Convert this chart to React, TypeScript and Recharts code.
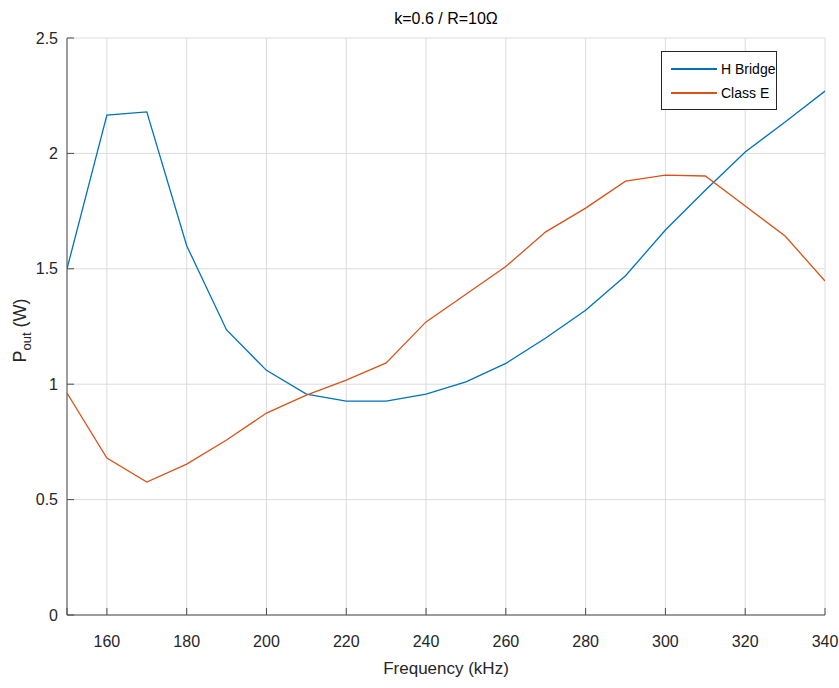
import { LineChart, Line, XAxis, YAxis, CartesianGrid } from "recharts";

const freqs = [150, 160, 170, 180, 190, 200, 210, 220, 230, 240, 250, 260, 270, 280, 290, 300, 310, 320, 330, 340];
const hBridge = [1.5, 2.166, 2.18, 1.6, 1.235, 1.06, 0.957, 0.927, 0.927, 0.957, 1.01, 1.09, 1.2, 1.32, 1.47, 1.668, 1.84, 2.006, 2.136, 2.27];
const classE = [0.962, 0.68, 0.576, 0.654, 0.758, 0.875, 0.953, 1.018, 1.092, 1.27, 1.39, 1.51, 1.66, 1.763, 1.88, 1.906, 1.902, 1.772, 1.642, 1.447];
const xTicks = [150, 160, 180, 200, 220, 240, 260, 280, 300, 320, 340];
const yTicks = [0, 0.5, 1, 1.5, 2, 2.5];

const data = freqs.map((f, i) => ({ f, h: hBridge[i], e: classE[i] }));

const FONT = "'Liberation Sans', Arial, sans-serif";
const BLUE = "#0072BD";
const ORANGE = "#D95319";
const AXIS = "#4d4d4d";

const yLabel = (props: any) => {
  const vb = props.viewBox || {};
  const cx = 26;
  const cy = vb.y + vb.height / 2 + 4;
  return (
    <text
      x={cx}
      y={cy}
      transform={`rotate(-90 ${cx} ${cy})`}
      textAnchor="middle"
      fontFamily={FONT}
      fontSize={18}
      fill="#262626"
    >
      P
      <tspan fontSize={13} dy={5}>out</tspan>
      <tspan dy={-5}>{"  (W)"}</tspan>
    </text>
  );
};

const legendItems = [
  { name: "H Bridge", c: BLUE },
  { name: "Class E", c: ORANGE },
];

export default function App() {
  return (
    <div style={{ position: "absolute", left: 0, top: 0, width: 839, height: 688, background: "#fff" }}>
      <LineChart
        width={839}
        height={688}
        data={data}
        margin={{ top: 38, right: 14, bottom: 0, left: 0 }}
      >
        <text
          x={446}
          y={24}
          textAnchor="middle"
          fontFamily={FONT}
          fontSize={16}
          fill="#000"
        >
          k=0.6 / R=10Ω
        </text>
        <CartesianGrid stroke="#dcdcdc" strokeWidth={1} />
        <XAxis
          dataKey="f"
          type="number"
          domain={[150, 340]}
          ticks={xTicks}
          height={73}
          interval={0}
          allowDataOverflow
          stroke={AXIS}
          tickSize={-7}
          tickMargin={28}
          tickFormatter={(v: number) => (v === 150 ? "" : String(v))}
          tick={{ fill: "#262626", fontFamily: FONT, fontSize: 16 }}
          label={{
            value: "Frequency (kHz)",
            position: "insideBottom",
            offset: 14,
            fill: "#262626",
            fontFamily: FONT,
            fontSize: 17,
          }}
        />
        <XAxis
          xAxisId="top"
          orientation="top"
          dataKey="f"
          type="number"
          domain={[150, 340]}
          ticks={xTicks}
          height={0}
          stroke={AXIS}
          tickSize={-7}
          tickFormatter={() => ""}
        />
        <YAxis
          type="number"
          domain={[0, 2.5]}
          ticks={yTicks}
          width={67}
          interval={0}
          stroke={AXIS}
          tickSize={-7}
          tickMargin={16}
          tick={{ fill: "#262626", fontFamily: FONT, fontSize: 16 }}
          label={yLabel}
        />
        <YAxis
          yAxisId="r"
          orientation="right"
          type="number"
          domain={[0, 2.5]}
          ticks={yTicks}
          width={0}
          stroke={AXIS}
          tickSize={-7}
          tickFormatter={() => ""}
        />
        <Line
          type="linear"
          dataKey="h"
          name="H Bridge"
          stroke={BLUE}
          strokeWidth={1.3}
          dot={false}
          isAnimationActive={false}
        />
        <Line
          type="linear"
          dataKey="e"
          name="Class E"
          stroke={ORANGE}
          strokeWidth={1.3}
          dot={false}
          isAnimationActive={false}
        />
      </LineChart>
      <div
        style={{
          position: "absolute",
          left: 661,
          top: 51,
          width: 116,
          height: 59,
          border: "1px solid #262626",
          background: "#fff",
          fontFamily: FONT,
          fontSize: 14,
          color: "#000",
          boxSizing: "border-box",
          paddingTop: 5,
          whiteSpace: "nowrap",
        }}
      >
        {legendItems.map((it) => (
          <div key={it.name} style={{ display: "flex", alignItems: "center", height: 24 }}>
            <div style={{ width: 46, height: 1.5, background: it.c, marginLeft: 9, marginRight: 4 }} />
            <span>{it.name}</span>
          </div>
        ))}
      </div>
    </div>
  );
}
